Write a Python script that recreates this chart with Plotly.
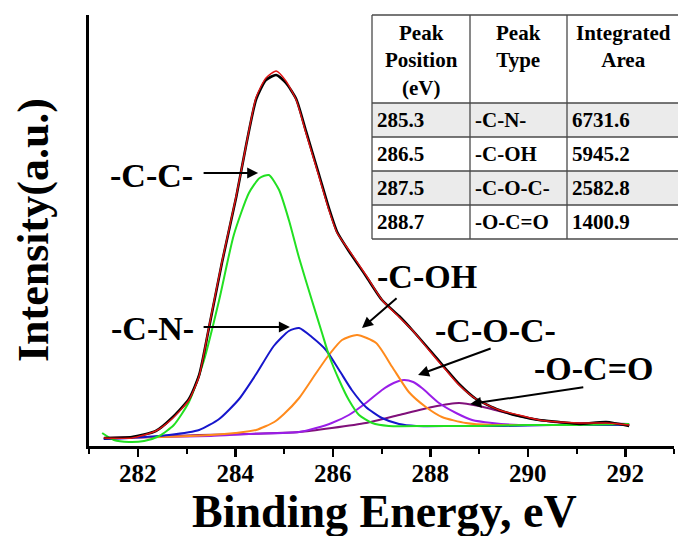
import plotly.graph_objects as go

# ---------------- data ----------------
# binding energy (eV) / intensity (a.u.)
env_x = [281.31, 281.88, 282.37, 282.70, 283.05, 283.26, 283.46, 283.73, 284.02, 284.22,
         284.43, 284.63, 284.84, 285.04, 285.25, 285.45, 285.72, 285.92, 286.09, 286.33,
         286.68, 287.01, 287.36, 287.63, 287.97, 288.32, 288.59, 288.94, 289.41, 289.82,
         290.23, 290.64, 291.05, 291.61, 292.08]
fit_y = [8, 8, 15, 27, 46, 70, 119, 185, 250, 300,
         349, 368, 375, 365, 346, 313, 269, 236, 213, 196,
         171, 146, 129, 116, 96, 76, 61, 47, 36, 31,
         26, 24, 23, 23, 21]
raw_y = [8, 9, 15, 28, 47, 71, 118, 184, 249, 300,
         347, 366, 371, 363, 347, 315, 271, 238, 214, 195,
         170, 146, 130, 116, 97, 77, 62, 47, 36, 30,
         26, 24, 22, 24, 20]

cc_x = [281.27, 281.51, 281.82, 282.13, 282.44, 282.74, 283.05, 283.36, 283.67, 283.97,
        284.28, 284.50, 284.69, 284.90, 285.10, 285.31, 285.57, 285.78, 285.92, 286.13,
        286.33, 286.54, 286.81, 287.15, 288.0, 289.0, 290.0, 291.0, 292.08]
cc_y = [13, 6, 4, 5, 10, 21, 44, 86, 146, 211,
        253, 268, 271, 256, 226, 188, 146, 113, 91, 66,
        46, 31, 23, 20, 20, 20, 21, 21, 22]

cn_x = [281.30, 281.82, 282.64, 283.26, 283.67, 284.08, 284.43, 284.79, 285.10, 285.31,
        285.57, 285.86, 286.13, 286.39, 286.68, 287.01, 287.36, 287.71, 288.5, 289.5,
        290.5, 291.5, 292.08]
cn_y = [7, 8, 11, 16, 27, 47, 72, 100, 115, 118,
        109, 96, 76, 56, 39, 28, 22, 20, 20, 20,
        21, 21, 21]

coh_x = [281.30, 282.5, 283.5, 284.0, 284.43, 284.8, 285.0, 285.31, 285.66, 285.92,
         286.19, 286.50, 286.89, 287.22, 287.56, 287.91, 288.24, 288.73, 289.27, 290.0,
         291.0, 292.08]
coh_y = [8, 9, 11, 13, 16, 24, 32, 48, 73, 91,
         106, 111, 103, 79, 54, 39, 29, 23, 21, 21,
         21, 21]

coc_x = [281.30, 282.5, 283.5, 284.28, 285.31, 285.66, 285.98, 286.33, 286.68, 287.01,
         287.25, 287.46, 287.65, 287.83, 288.18, 288.53, 288.86, 289.27, 289.82, 290.5,
         291.5, 292.08]
coc_y = [8, 9, 10, 12, 14, 18, 23, 31, 43, 56,
         63, 66, 64, 58, 43, 33, 26, 23, 21, 21,
         21, 21]

oco_x = [281.31, 282.23, 283.26, 284.28, 285.31, 285.98, 286.68, 287.36, 288.04, 288.59,
         289.00, 289.41, 289.82, 290.23, 290.78, 291.26, 292.08]
oco_y = [8, 9, 11, 12, 14, 18, 23, 31, 39, 43,
         40, 35, 30, 26, 23, 23, 22]

x_ticks = [282, 284, 286, 288, 290, 292]
x_minor = [281, 283, 285, 287, 289, 291, 293]

table_header = ["Peak<br>Position<br>(eV)", "Peak<br>Type", "Integrated<br>Area"]
peak_position = ["285.3", "286.5", "287.5", "288.7"]
peak_type = ["-C-N-", "-C-OH", "-C-O-C-", "-O-C=O"]
integrated_area = ["6731.6", "5945.2", "2582.8", "1400.9"]

x_title = "Binding Energy, eV"
y_title = "Intensity(a.u.)"

# peak labels and arrows (data coordinates)
labels = ["-C-C-", "-C-N-", "-C-OH", "-C-O-C-", "-O-C=O"]
label_pos = [(282.28, 271), (282.30, 118), (287.93, 170), (289.33, 116), (291.34, 78)]
arrow_tail = [(283.32, 273), (283.32, 119), (287.34, 149), (289.27, 98), (291.17, 59)]
arrow_head = [(284.47, 273), (285.12, 119), (286.60, 118), (287.75, 71), (288.82, 42)]

# ---------------- figure ----------------
FONT = '"Liberation Serif", "Times New Roman", Times, serif'
W, H = 678, 536
ML, MR, MT, MB = 89, 4, 15, 90

fig = go.Figure()

def add_line(x, y, color, width):
    fig.add_trace(go.Scatter(x=x, y=y, mode="lines",
                             line=dict(color=color, width=width, shape="spline", smoothing=0.6),
                             hoverinfo="skip", showlegend=False))

add_line(oco_x, oco_y, "#80107a", 2)
add_line(coc_x, coc_y, "#9a1ee8", 2)
add_line(coh_x, coh_y, "#ff8a1c", 2)
add_line(cn_x, cn_y, "#1616cc", 2)
add_line(cc_x, cc_y, "#22e022", 2)
add_line(env_x, raw_y, "#000000", 2.6)
add_line(env_x, fit_y, "#e01414", 1.4)

# arrows and labels
for t, lp, tl, hd in zip(labels, label_pos, arrow_tail, arrow_head):
    fig.add_annotation(x=hd[0], y=hd[1], ax=tl[0], ay=tl[1], xref="x", yref="y",
                       axref="x", ayref="y", text="", showarrow=True,
                       arrowhead=2, arrowsize=1.1, arrowwidth=2, arrowcolor="black")
    fig.add_annotation(x=lp[0], y=lp[1], xref="x", yref="y", text="<b>%s</b>" % t,
                       showarrow=False,
                       font=dict(family=FONT, size=34, color="black"))

# table (paper coordinates derived from pixel layout)
pw, ph = W - ML - MR, H - MT - MB
def px(v):
    return (v - ML) / pw
def py(v):
    return (H - MB - v) / ph

col_edges = [372, 470, 567, 680]
row_edges = [15, 103, 137, 171, 205, 239]
shapes = []
for r in (1, 3):
    shapes.append(dict(type="rect", xref="paper", yref="paper",
                       x0=px(col_edges[0]), x1=px(col_edges[-1]),
                       y0=py(row_edges[r]), y1=py(row_edges[r + 1]),
                       fillcolor="#ebebeb", line=dict(width=0), layer="below"))
for ry in row_edges:
    shapes.append(dict(type="line", xref="paper", yref="paper",
                       x0=px(col_edges[0]), x1=px(col_edges[-1]), y0=py(ry), y1=py(ry),
                       line=dict(color="#4a4a4a", width=1.3)))
for cx in col_edges:
    shapes.append(dict(type="line", xref="paper", yref="paper",
                       x0=px(cx), x1=px(cx), y0=py(row_edges[0]), y1=py(row_edges[-1]),
                       line=dict(color="#4a4a4a", width=1.3)))

tfont = dict(family=FONT, size=21, color="black")
for i, h in enumerate(table_header):
    cxm = (col_edges[i] + col_edges[i + 1]) / 2
    fig.add_annotation(x=px(cxm), y=py(19), xref="paper", yref="paper",
                       text="<b>%s</b>" % h.replace("<br>", "</b><br><b>"),
                       showarrow=False, xanchor="center", yanchor="top", align="center",
                       font=tfont)
columns = [peak_position, peak_type, integrated_area]
for c, col in enumerate(columns):
    for r, val in enumerate(col):
        cy = (row_edges[r + 1] + row_edges[r + 2]) / 2
        fig.add_annotation(x=px(col_edges[c] + 3), y=py(cy), xref="paper", yref="paper",
                           text="<b>%s</b>" % val, showarrow=False, xanchor="left",
                           yanchor="middle", font=tfont)

# axis titles as annotations for exact placement
fig.add_annotation(x=px(384), y=py(511), xref="paper", yref="paper",
                   text="<b>%s</b>" % x_title, showarrow=False,
                   xanchor="center", yanchor="middle",
                   font=dict(family=FONT, size=46, color="black"))
fig.add_annotation(x=px(33), y=py(230), xref="paper", yref="paper",
                   text="<b>%s</b>" % y_title, showarrow=False, textangle=-90,
                   xanchor="center", yanchor="middle",
                   font=dict(family=FONT, size=44, color="black"))

fig.update_layout(
    width=W, height=H,
    margin=dict(l=ML, r=MR, t=MT, b=MB, autoexpand=False),
    paper_bgcolor="white", plot_bgcolor="white",
    shapes=shapes, showlegend=False,
    font=dict(family=FONT, color="black"),
)
fig.update_xaxes(range=[281, 293], tickvals=x_ticks, ticktext=["<b>%d</b>" % v for v in x_ticks],
                 ticks="outside", ticklen=8, automargin=False, ticklabelstandoff=-5,
                 tickwidth=2.5, tickcolor="black", showline=True, linewidth=3,
                 linecolor="black", showgrid=False, zeroline=False,
                 tickfont=dict(family=FONT, size=25, color="black"),
                 minor=dict(tickvals=x_minor, ticks="outside",
                            ticklen=5, tickwidth=2, tickcolor="black"))
fig.update_yaxes(range=[0, 431], showticklabels=False, ticks="", showline=True,
                 automargin=False,
                 linewidth=3, linecolor="black", showgrid=False, zeroline=False)

fig.write_html("out.html", config={"displayModeBar": False, "staticPlot": True},
               post_script="document.body.style.margin='0px';document.body.style.overflow='hidden';")
